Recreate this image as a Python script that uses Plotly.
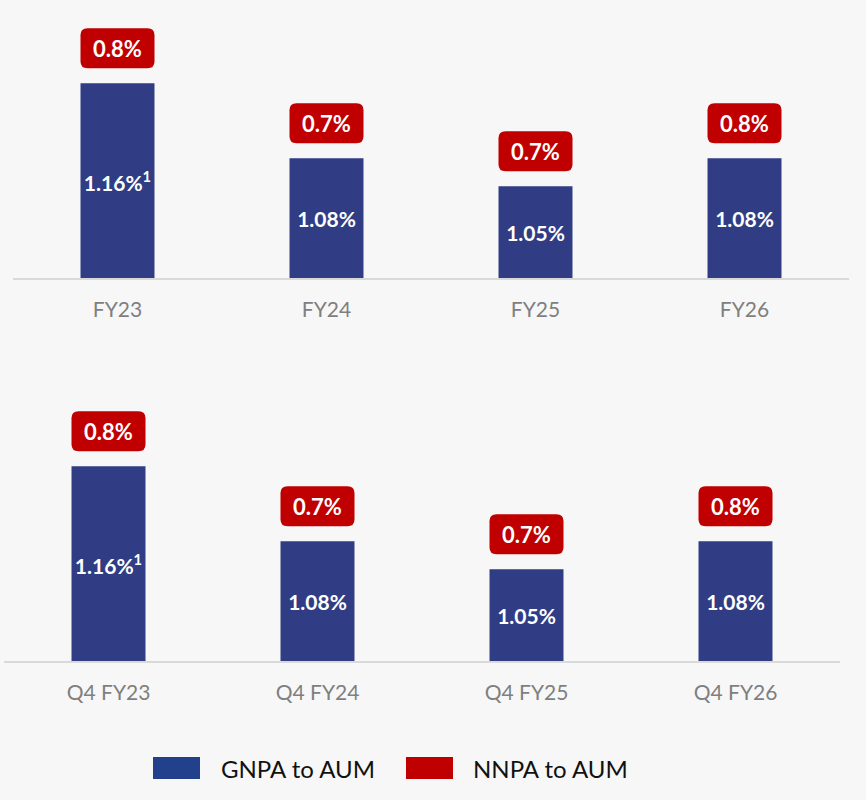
import plotly.graph_objects as go

# ---- data ----
annual_labels = ["FY23", "FY24", "FY25", "FY26"]
quarter_labels = ["Q4 FY23", "Q4 FY24", "Q4 FY25", "Q4 FY26"]
gnpa_annual = [1.16, 1.08, 1.05, 1.08]
gnpa_quarter = [1.16, 1.08, 1.05, 1.08]
gnpa_annual_text = ["1.16%<sup>1</sup>", "1.08%", "1.05%", "1.08%"]
gnpa_quarter_text = ["1.16%<sup>1</sup>", "1.08%", "1.05%", "1.08%"]
nnpa_annual = ["0.8%", "0.7%", "0.7%", "0.8%"]
nnpa_quarter = ["0.8%", "0.7%", "0.7%", "0.8%"]

BLUE = "#303d84"
RED = "#c00000"
BG = "#f7f7f7"
FONT = "Lato"
Y_BASE = 0.952
Y_TOP = 1.2255

fig = go.Figure()
for xs, ys, txt, xa, ya in [(annual_labels, gnpa_annual, gnpa_annual_text, "x", "y"),
                            (quarter_labels, gnpa_quarter, gnpa_quarter_text, "x2", "y2")]:
    fig.add_trace(go.Bar(
        x=xs, y=[v - Y_BASE for v in ys], base=Y_BASE, text=txt,
        marker=dict(color=BLUE, line=dict(width=0)),
        textposition="inside", insidetextanchor="middle", constraintext="none",
        textfont=dict(color="white", size=21, family=FONT, weight="bold"),
        xaxis=xa, yaxis=ya, showlegend=False, hoverinfo="skip", width=0.354,
    ))

shapes = []
annotations = []
GAP, W, H, R = 15, 74, 40, 7

def rounded_path(gap):
    x0, x1 = -W / 2, W / 2
    y0, y1 = gap, gap + H
    return (f"M {x0+R},{y0} L {x1-R},{y0} Q {x1},{y0} {x1},{y0+R} "
            f"L {x1},{y1-R} Q {x1},{y1} {x1-R},{y1} L {x0+R},{y1} "
            f"Q {x0},{y1} {x0},{y1-R} L {x0},{y0+R} Q {x0},{y0} {x0+R},{y0} Z")

for xr, yr, vals, labels in [("x", "y", gnpa_annual, nnpa_annual),
                             ("x2", "y2", gnpa_quarter, nnpa_quarter)]:
    for i, (v, lab) in enumerate(zip(vals, labels)):
        shapes.append(dict(type="path", xref=xr, yref=yr,
                           xsizemode="pixel", ysizemode="pixel",
                           xanchor=i, yanchor=v, path=rounded_path(GAP),
                           fillcolor=RED, line=dict(width=0), layer="above"))
        annotations.append(dict(xref=xr, yref=yr, x=i, y=v, text=f"<b>{lab}</b>",
                                showarrow=False, yshift=GAP + H / 2,
                                yanchor="middle",
                                font=dict(color="white", size=22, family=FONT)))

# legend (manual)
leg_items = [("GNPA to AUM", "#23408c", 153, 219), ("NNPA to AUM", RED, 406, 471)]
for name, col, sx, tx in leg_items:
    shapes.append(dict(type="rect", xref="paper", yref="paper",
                       x0=sx / 866, x1=(sx + 47) / 866,
                       y0=1 - 779 / 800, y1=1 - 757 / 800,
                       fillcolor=col, line=dict(width=0)))
    annotations.append(dict(xref="paper", yref="paper", x=tx / 866, y=1 - 768 / 800,
                            xanchor="left", yanchor="middle", text=name, showarrow=False,
                            font=dict(color="#111111", size=24, family=FONT)))

axis_common = dict(showgrid=False, zeroline=False, ticks="",
                   tickfont=dict(color="#7f7f7f", size=21, family=FONT),
                   ticklabelstandoff=12,
                   showline=True, linecolor="#d9d9d9", linewidth=2, fixedrange=True)

fig.update_layout(
    width=866, height=800,
    margin=dict(l=0, r=0, t=0, b=0),
    paper_bgcolor=BG, plot_bgcolor=BG,
    xaxis=dict(domain=[13 / 866, 849 / 866], anchor="y", **axis_common),
    xaxis2=dict(domain=[4 / 866, 840 / 866], anchor="y2", **axis_common),
    yaxis=dict(domain=[1 - 278 / 800, 1 - 22 / 800], range=[Y_BASE, Y_TOP], visible=False),
    yaxis2=dict(domain=[1 - 661 / 800, 1 - 405 / 800], range=[Y_BASE, Y_TOP], visible=False),
    shapes=shapes, annotations=annotations,
    font=dict(family=FONT),
)

fig.write_html(
    "out.html",
    config={"displayModeBar": False},
    post_script="document.body.style.margin='0';document.body.style.overflow='hidden';"
                "document.body.style.background='#f7f7f7';",
)
